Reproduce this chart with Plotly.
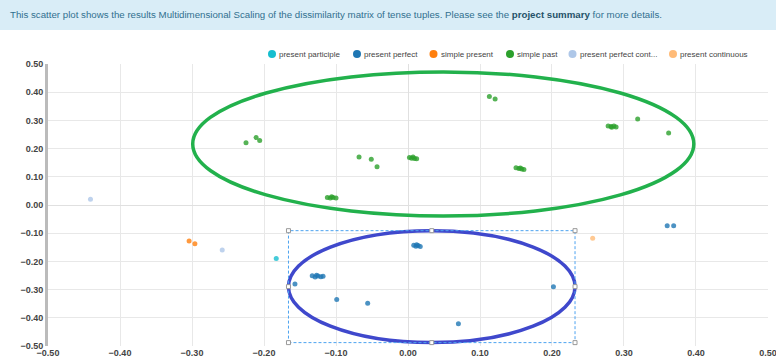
import plotly.graph_objects as go

# MDS coordinates per tense tuple
series_names = ["present participle", "present perfect", "simple present",
                "simple past", "present perfect cont...", "present continuous"]
series_colors = ["#17becf", "#1f77b4", "#ff7f0e", "#2ca02c", "#aec7e8", "#ffbb78"]

present_participle_x = [-0.183]
present_participle_y = [-0.190]

present_perfect_x = [0.008, 0.011, 0.014, 0.017, 0.012,
                     -0.133, -0.129, -0.125, -0.121, -0.118, -0.127,
                     -0.157, -0.099, -0.056, 0.070, 0.202, 0.360, 0.369]
present_perfect_y = [-0.143, -0.146, -0.144, -0.147, -0.141,
                     -0.251, -0.255, -0.252, -0.254, -0.253, -0.249,
                     -0.280, -0.335, -0.348, -0.421, -0.290, -0.074, -0.074]

simple_present_x = [-0.304, -0.296]
simple_present_y = [-0.128, -0.137]

simple_past_x = [-0.225, -0.211, -0.206, -0.068, -0.051, -0.043,
                 0.002, 0.005, 0.009, 0.012, 0.007,
                 -0.112, -0.108, -0.104, -0.100, -0.106,
                 0.113, 0.121,
                 0.278, 0.282, 0.286, 0.289, 0.283,
                 0.319, 0.362,
                 0.150, 0.154, 0.158, 0.161, 0.156]
simple_past_y = [0.221, 0.239, 0.229, 0.170, 0.162, 0.136,
                 0.168, 0.166, 0.165, 0.164, 0.170,
                 0.027, 0.025, 0.027, 0.025, 0.029,
                 0.385, 0.376,
                 0.280, 0.278, 0.280, 0.277, 0.276,
                 0.305, 0.255,
                 0.132, 0.129, 0.128, 0.126, 0.131]

present_perfect_cont_x = [-0.441, -0.258]
present_perfect_cont_y = [0.020, -0.160]

present_continuous_x = [0.2565]
present_continuous_y = [-0.118]

xs = [present_participle_x, present_perfect_x, simple_present_x,
      simple_past_x, present_perfect_cont_x, present_continuous_x]
ys = [present_participle_y, present_perfect_y, simple_present_y,
      simple_past_y, present_perfect_cont_y, present_continuous_y]

# Highlighted regions (data units)
green_ellipse = (-0.299, 0.397, -0.039, 0.472)
blue_ellipse = (-0.166, 0.232, -0.488, -0.091)
selection_box = (-0.166, 0.232, -0.488, -0.091)

# Page geometry (px)
W, H = 776, 364
ML, MR, MT, MB = 48, 8, 64, 18
PW, PH = W - ML - MR, H - MT - MB


def px_x(p):
    return (p - ML) / PW


def px_y(p):
    return 1 + (MT - p) / PH


fig = go.Figure()
for name, color, x, y in zip(series_names, series_colors, xs, ys):
    fig.add_trace(go.Scatter(
        x=x, y=y, mode="markers", name=name, showlegend=False,
        marker=dict(color=color, size=5, opacity=0.8, line=dict(width=0)),
    ))

shapes = []
annotations = []

# info banner across the top of the page
shapes.append(dict(type="rect", xref="paper", yref="paper",
                   x0=px_x(0), x1=px_x(W), y0=px_y(30), y1=px_y(0),
                   fillcolor="#d9edf7", line=dict(width=0), layer="below"))
annotations.append(dict(
    xref="paper", yref="paper", x=px_x(8), y=px_y(14),
    xanchor="left", yanchor="middle", showarrow=False,
    text=("This scatter plot shows the results Multidimensional Scaling of the "
          "dissimilarity matrix of tense tuples. Please see the "
          "<b style='color:#245269'>project summary</b> for more details."),
    font=dict(size=9.7, color="#31708f"),
))

# legend row: circle swatch followed by the series name
legend_px = [272, 357, 433.5, 510, 572.5, 673]
legend_row_y = 54
for name, color, lx in zip(series_names, series_colors, legend_px):
    shapes.append(dict(type="circle", xref="paper", yref="paper",
                       xsizemode="pixel", ysizemode="pixel",
                       xanchor=px_x(lx), yanchor=px_y(legend_row_y),
                       x0=-4, x1=4, y0=-4, y1=4,
                       fillcolor=color, line=dict(width=0)))
    annotations.append(dict(
        xref="paper", yref="paper", x=px_x(lx + 5), y=px_y(legend_row_y),
        xanchor="left", yanchor="middle", showarrow=False,
        text=name, font=dict(size=8, color="#444444"),
    ))

gx0, gx1, gy0, gy1 = green_ellipse
shapes.append(dict(type="circle", xref="x", yref="y", x0=gx0, x1=gx1, y0=gy0, y1=gy1,
                   line=dict(color="#22b14c", width=3.5)))
bx0, bx1, by0, by1 = blue_ellipse
shapes.append(dict(type="circle", xref="x", yref="y", x0=bx0, x1=bx1, y0=by0, y1=by1,
                   line=dict(color="#3f48cc", width=3.5)))
sx0, sx1, sy0, sy1 = selection_box
shapes.append(dict(type="rect", xref="x", yref="y", x0=sx0, x1=sx1, y0=sy0, y1=sy1,
                   line=dict(color="#4da3f0", width=1, dash="3px,2px")))
# resize handles at corners and edge midpoints
mx, my = (sx0 + sx1) / 2, (sy0 + sy1) / 2
for hx, hy in [(sx0, sy0), (sx0, my), (sx0, sy1), (mx, sy1),
               (sx1, sy1), (sx1, my), (sx1, sy0), (mx, sy0)]:
    shapes.append(dict(type="rect", xref="x", yref="y",
                       xsizemode="pixel", ysizemode="pixel",
                       xanchor=hx, yanchor=hy, x0=-2, x1=2, y0=-2, y1=2,
                       fillcolor="white", line=dict(color="#999999", width=1)))

fig.update_layout(
    width=W, height=H,
    margin=dict(l=ML, r=MR, t=MT, b=MB),
    paper_bgcolor="white", plot_bgcolor="white",
    font=dict(family="Liberation Sans, Arial, sans-serif", size=9, color="#333333"),
    shapes=shapes,
    annotations=annotations,
    showlegend=False,
)
axis_style = dict(
    dtick=0.1, tick0=0, tickformat=".2f",
    showgrid=True, gridcolor="#e8e8e8", gridwidth=1,
    zeroline=True, zerolinecolor="#e0e0e0", zerolinewidth=1,
    ticks="", ticklabeloverflow="allow",
    tickfont=dict(size=9, color="#444444", family="Liberation Sans, Arial"),
    tickprefix="<b>", ticksuffix="</b>",
)
fig.update_xaxes(range=[-0.5, 0.50001], showline=False, automargin=False, **axis_style)
fig.update_yaxes(range=[-0.5, 0.5], showline=True, linecolor="#bbbbbb",
                 linewidth=3, mirror=False, automargin=True, **axis_style)

fig.write_html("out.html")
